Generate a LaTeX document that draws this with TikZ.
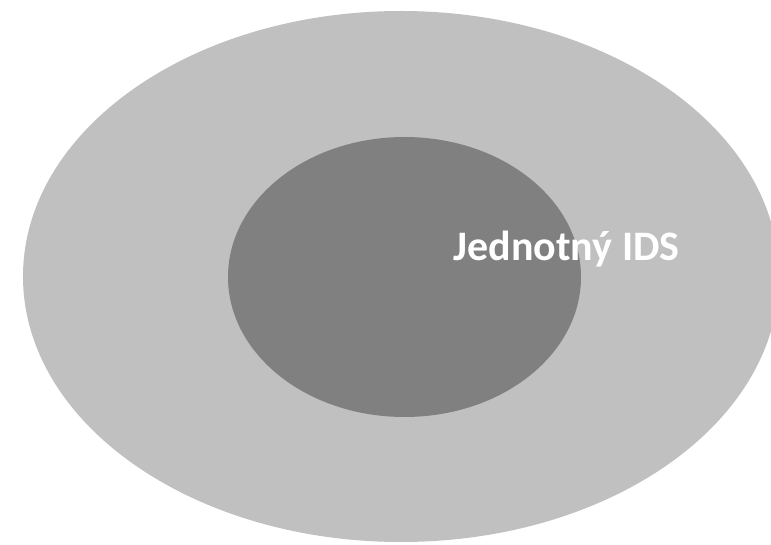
\documentclass[tikz,border=0pt]{standalone}
\usepackage{fontspec}
\setmainfont{Carlito}
\usetikzlibrary{shapes.geometric}

\begin{document}
\begin{tikzpicture}[x=1pt,y=1pt]
  \useasboundingbox (0,0) rectangle (771,544);
  \node (outer) [ellipse,fill={rgb,255:red,192;green,192;blue,192},
    minimum width=756pt,minimum height=531pt,inner sep=0pt] at (401,267.5) {};
  \node (inner) [ellipse,fill={rgb,255:red,128;green,128;blue,128},
    minimum width=353pt,minimum height=280pt,inner sep=0pt] at (404.5,267) {};
  \node (ids) [anchor=base,text=white,font=\fontsize{42}{48}\selectfont\bfseries,
    inner sep=0pt] at (566.5,283) {Jednotný IDS};
\end{tikzpicture}
\end{document}
